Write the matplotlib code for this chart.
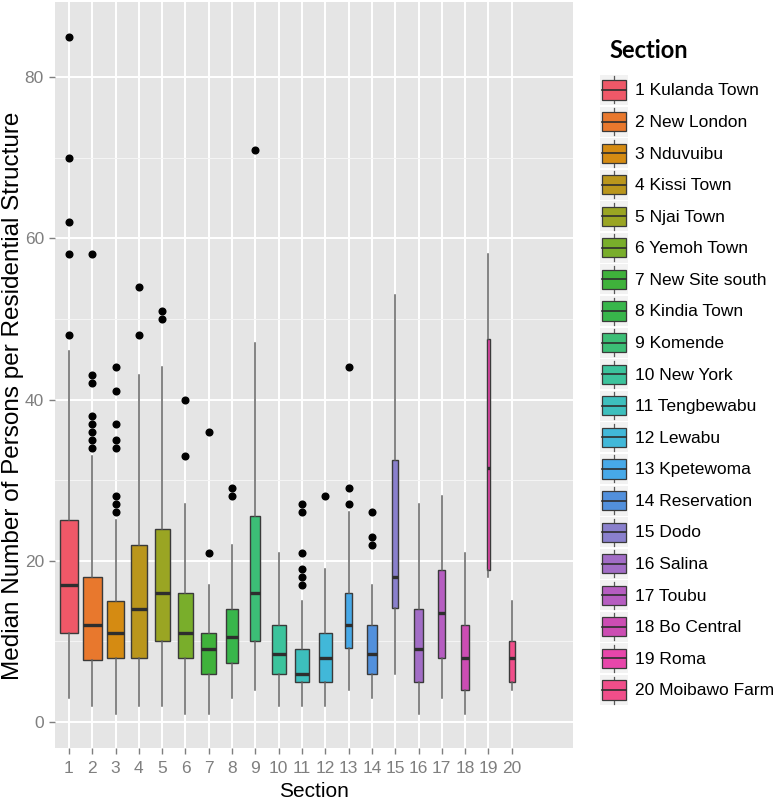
import matplotlib
matplotlib.use("Agg")
import matplotlib.pyplot as plt
from matplotlib.patches import Rectangle
from matplotlib.lines import Line2D
from matplotlib.legend_handler import HandlerBase
import numpy as np

# ---------------- data ----------------
sections = ["1 Kulanda Town", "2 New London", "3 Nduvuibu", "4 Kissi Town", "5 Njai Town",
            "6 Yemoh Town", "7 New Site south", "8 Kindia Town", "9 Komende", "10 New York",
            "11 Tengbewabu", "12 Lewabu", "13 Kpetewoma", "14 Reservation", "15 Dodo",
            "16 Salina", "17 Toubu", "18 Bo Central", "19 Roma", "20 Moibawo Farm"]
tick_labels = [str(i) for i in range(1, 21)]
counts = [92, 100, 90, 68, 62, 70, 62, 46, 28, 56, 54, 46, 17, 30, 11, 25, 15, 20, 2, 11]
q1 = [11, 7.7, 8, 8, 10, 8, 6, 7.3, 10, 6, 5, 5, 9.2, 6, 14.2, 5, 8, 4, 18.8, 5]
median = [17, 12, 11, 14, 16, 11, 9, 10.5, 16, 8.5, 6, 8, 12, 8.5, 18, 9, 13.5, 8, 31.5, 8]
q3 = [25, 18, 15, 22, 24, 16, 11, 14, 25.6, 12, 9, 11, 16, 12, 32.5, 14, 18.8, 12, 47.5, 10]
whislo = [3, 2, 1, 2, 2, 1, 1, 3, 4, 2, 2, 2, 4, 3, 6, 1, 3, 1, 18, 4]
whishi = [46, 33, 25, 43, 44, 27, 17, 22, 47, 21, 15, 19, 26, 17, 53, 27, 28, 21, 58, 15]
outliers = [[48, 58, 62, 70, 85], [34, 35, 36, 37, 38, 42, 43, 58],
            [26, 27, 28, 34, 35, 37, 41, 44], [48, 54], [50, 51], [33, 40], [21, 36],
            [28, 29], [71], [], [17, 18, 19, 21, 26, 27], [28], [27, 29, 44],
            [22, 23, 26], [], [], [], [], [], []]

colors = ["#EF5868", "#E8782D", "#D58B12", "#BA961C", "#9AA523", "#79AE2B", "#3FB23B",
          "#38B64B", "#3CBE76", "#3CC39C", "#3DBFBD", "#41B8D9", "#47A9E8", "#5290DC",
          "#8A80CD", "#A26DC6", "#B65DC1", "#CC4DB3", "#E746AA", "#F04E8A"]

# ---------------- figure ----------------
fig = plt.figure(figsize=(7.78, 8.02), dpi=100)
ax = fig.add_axes([55 / 778, 1 - 748 / 802, (573 - 55) / 778, (748 - 2) / 802])
ax.set_facecolor("#E5E5E5")
for s in ax.spines.values():
    s.set_visible(False)

positions = np.arange(1, len(sections) + 1)
maxn = max(counts)
widths = [0.8 * np.sqrt(n / maxn) for n in counts]

stats = []
for i in range(len(sections)):
    stats.append(dict(med=median[i], q1=q1[i], q3=q3[i], whislo=whislo[i],
                      whishi=whishi[i], fliers=outliers[i], label=tick_labels[i]))

bp = ax.bxp(stats, positions=positions, widths=widths, patch_artist=True,
            showcaps=False,
            boxprops=dict(edgecolor="#3A3A3A", linewidth=1.0),
            whiskerprops=dict(color="#626262", linewidth=1.1),
            medianprops=dict(color="#2E2E2E", linewidth=2.4, solid_capstyle="butt"),
            flierprops=dict(marker="o", markerfacecolor="black", markeredgecolor="black",
                            markersize=4.8, linestyle="none"),
            zorder=3)
for patch, c in zip(bp["boxes"], colors):
    patch.set_facecolor(c)

ax.set_xlim(0.4, 22.63)
ax.set_ylim(-3.22, 89.3)
ax.set_xticks(positions)
ax.set_xticklabels(tick_labels)
ax.set_yticks([0, 20, 40, 60, 80])
ax.set_yticks([10, 30, 50, 70], minor=True)
ax.grid(True, which="major", color="white", linewidth=1.4, zorder=0)
ax.grid(True, which="minor", axis="y", color="#F5F5F5", linewidth=0.7, zorder=0)
ax.set_axisbelow(True)
ax.tick_params(axis="both", which="major", colors="#7F7F7F", labelcolor="#7F7F7F",
               labelsize=12.5, length=4.5, width=1.0, pad=3.5)
ax.tick_params(axis="x", which="major", pad=5)
ax.tick_params(axis="y", which="minor", length=0)
for lab in ax.get_xticklabels() + ax.get_yticklabels():
    lab.set_fontfamily("Liberation Sans")

ax.set_xlabel("Section", fontsize=15, family="Liberation Sans", labelpad=4)
ax.set_ylabel("Median Number of Persons per Residential Structure", fontsize=17.5,
              family="Liberation Sans")
ax.yaxis.set_label_coords((13 - 55) / 518, (748 - 396) / 746)
ax.yaxis.label.set_va("center")


# ---------------- legend ----------------
class BoxKeyHandler(HandlerBase):
    def create_artists(self, legend, orig_handle, xdescent, ydescent, width, height,
                       fontsize, trans):
        x0, y0 = -xdescent, -ydescent
        bg = Rectangle((x0, y0), width, height, facecolor="#F2F2F2", edgecolor="none",
                       transform=trans)
        bw = width * 0.88
        bh = height * 0.64
        bx = x0 + (width - bw) / 2
        by = y0 + (height - bh) / 2
        wl = Line2D([x0 + width / 2] * 2, [y0 + height * 0.05, y0 + height * 0.95],
                    color="#5A5A5A", linewidth=0.9, transform=trans)
        box = Rectangle((bx, by), bw, bh, facecolor=orig_handle.get_facecolor(),
                        edgecolor="#3A3A3A", linewidth=0.9, transform=trans)
        med = Line2D([bx, bx + bw], [by + bh / 2] * 2, color="#2E2E2E", linewidth=1.2,
                     transform=trans)
        return [bg, wl, box, med]


handles = [Rectangle((0, 0), 1, 1, facecolor=c) for c in colors]
leg = fig.legend(handles, sections, handler_map={Rectangle: BoxKeyHandler()},
                 loc="upper left", bbox_to_anchor=(600 / 778, 1 - 75 / 802),
                 frameon=False, borderpad=0, borderaxespad=0,
                 handlelength=1.61, handleheight=2.28, labelspacing=0.092,
                 handletextpad=0.4,
                 prop=dict(family="Liberation Sans", size=12.5))

fig.text(609 / 778, 1 - 51 / 802, "Section", family="Lato", fontweight="bold",
         fontsize=17, ha="left", va="center")

fig.savefig("out.png", dpi=100)
